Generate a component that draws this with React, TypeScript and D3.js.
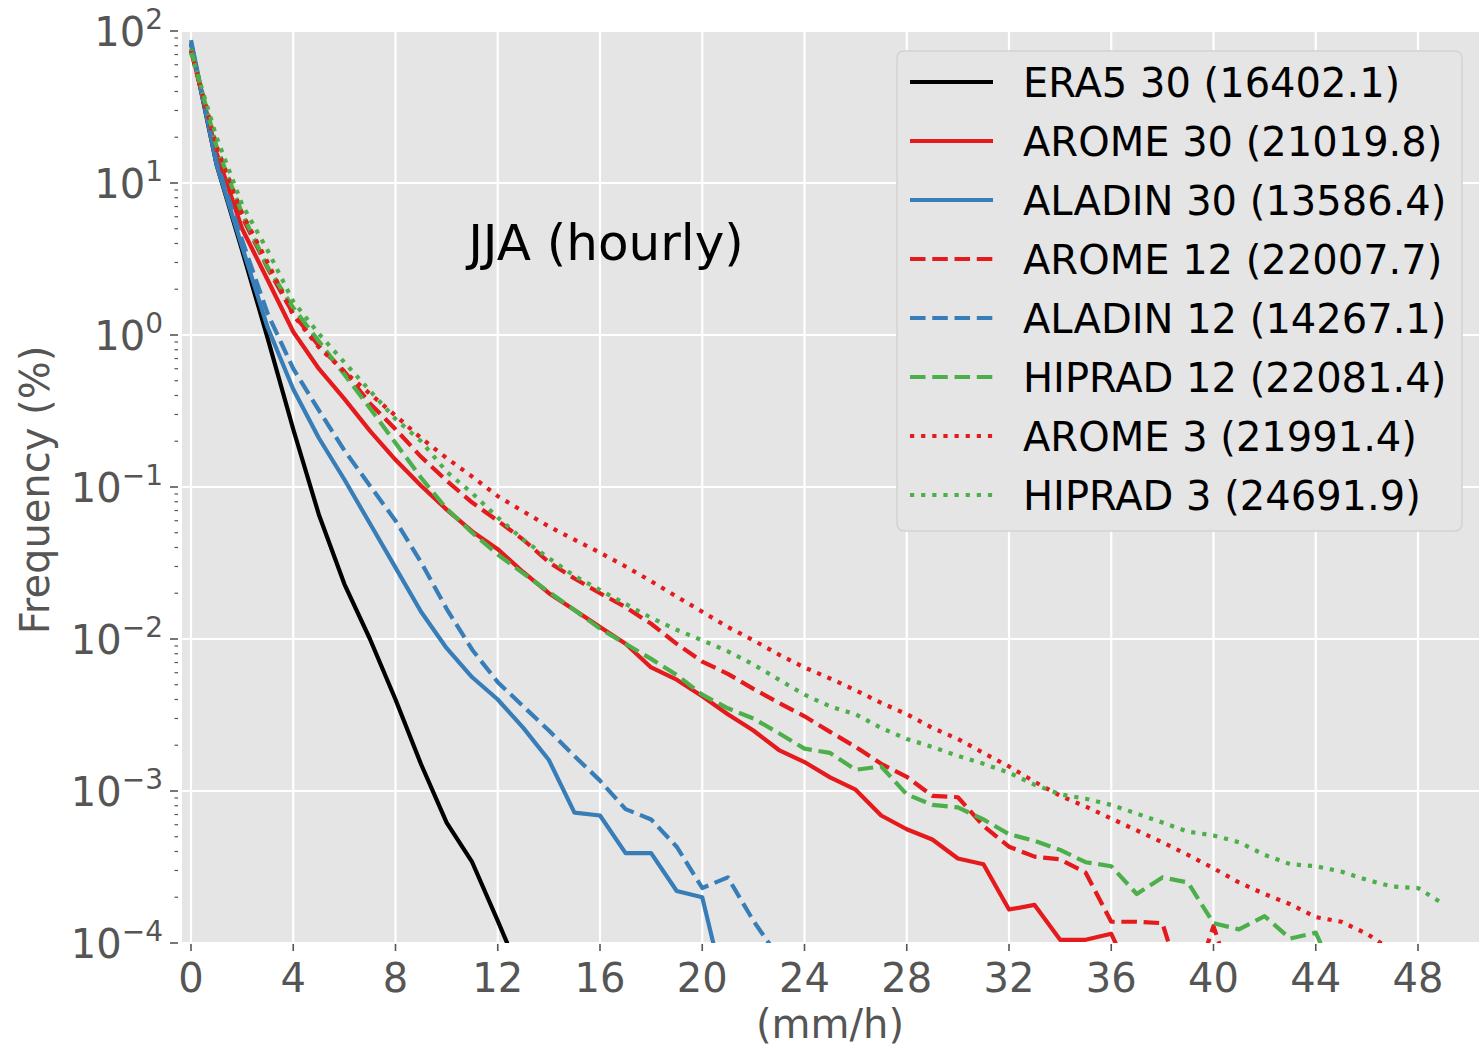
import React from 'react';
import * as d3 from 'd3';

// frequency (%) per 1 mm/h bin, index = bin (mm/h)
const era5_30 = [83, 13.2, 3.6, 0.95, 0.24, 0.066, 0.023, 0.010, 0.0040, 0.0015, 6.2e-4, 3.4e-4, 1.4e-4, 5.6e-5];
const arome_30 = [76, 15.8, 5.0, 2.3, 1.05, 0.60, 0.38, 0.234, 0.151, 0.102, 0.071, 0.051, 0.039, 0.0275, 0.020,
  0.0155, 0.012, 0.0093, 0.0065, 0.0054, 0.0042, 0.0032, 0.0025, 0.00186, 0.00155, 0.00123, 0.00102, 6.9e-4,
  5.6e-4, 4.8e-4, 3.6e-4, 3.3e-4, 1.66e-4, 1.78e-4, 1.05e-4, 1.05e-4, 1.15e-4, 5e-5];
const aladin_30 = [87, 13.2, 3.8, 1.12, 0.44, 0.21, 0.112, 0.0575, 0.0295, 0.0151, 0.0087, 0.0056, 0.0040, 0.0026,
  0.0016, 7.2e-4, 6.9e-4, 3.9e-4, 3.9e-4, 2.2e-4, 2.0e-4, 4e-5];
const arome_12 = [74, 16.6, 6.0, 2.75, 1.38, 0.85, 0.575, 0.355, 0.24, 0.158, 0.11, 0.079, 0.060, 0.045, 0.032,
  0.025, 0.020, 0.0162, 0.0126, 0.0093, 0.0071, 0.0059, 0.0047, 0.0038, 0.0031, 0.00245, 0.00195, 0.00151, 0.00124,
  9.3e-4, 9.1e-4, 5.9e-4, 4.3e-4, 3.7e-4, 3.55e-4, 2.9e-4, 1.38e-4, 1.38e-4, 1.35e-4, 4e-5, 1.29e-4, 4e-5];
const aladin_12 = [83, 13.8, 4.2, 1.38, 0.60, 0.32, 0.174, 0.102, 0.060, 0.032, 0.0158, 0.0085, 0.0052, 0.0036,
  0.0025, 0.0017, 0.00117, 7.6e-4, 6.5e-4, 4.3e-4, 2.3e-4, 2.7e-4, 1.4e-4, 8e-5];
const hiprad_12 = [76, 17.4, 6.3, 2.8, 1.51, 0.91, 0.55, 0.33, 0.195, 0.115, 0.072, 0.050, 0.036, 0.027, 0.0204,
  0.0155, 0.0117, 0.0093, 0.0074, 0.0058, 0.0043, 0.0035, 0.0030, 0.0024, 0.0019, 0.00178, 0.00138, 0.00145, 9.5e-4,
  8.1e-4, 7.8e-4, 6.5e-4, 5.2e-4, 4.7e-4, 4.1e-4, 3.4e-4, 3.2e-4, 2.1e-4, 2.7e-4, 2.5e-4, 1.35e-4, 1.23e-4, 1.5e-4,
  1.07e-4, 1.17e-4, 5e-5];
const arome_3 = [74, 17.4, 6.3, 3.0, 1.35, 0.83, 0.575, 0.41, 0.295, 0.21, 0.155, 0.117, 0.087, 0.069, 0.055,
  0.045, 0.037, 0.030, 0.024, 0.019, 0.0151, 0.012, 0.0098, 0.0079, 0.0065, 0.0055, 0.0046, 0.0038, 0.0032, 0.0026,
  0.0022, 0.00178, 0.00145, 0.00115, 9.3e-4, 7.9e-4, 6.6e-4, 5.5e-4, 4.6e-4, 3.8e-4, 3.1e-4, 2.5e-4, 2.1e-4, 1.8e-4,
  1.48e-4, 1.38e-4, 1.15e-4, 8.9e-5];
const hiprad_3 = [72, 20, 7.2, 3.6, 1.66, 1.02, 0.66, 0.43, 0.28, 0.20, 0.126, 0.091, 0.063, 0.045, 0.034, 0.026,
  0.021, 0.017, 0.0138, 0.0115, 0.0098, 0.0083, 0.0068, 0.0054, 0.0043, 0.0036, 0.0032, 0.0026, 0.0022, 0.00195,
  0.0017, 0.00151, 0.00132, 0.0011, 9.5e-4, 8.9e-4, 8.1e-4, 7.1e-4, 6.2e-4, 5.4e-4, 5.1e-4, 4.6e-4, 3.8e-4, 3.3e-4,
  3.2e-4, 2.95e-4, 2.6e-4, 2.35e-4, 2.3e-4, 1.8e-4];

const seriesNames = ['ERA5 30', 'AROME 30', 'ALADIN 30', 'AROME 12', 'ALADIN 12', 'HIPRAD 12', 'AROME 3', 'HIPRAD 3'];
const seriesTotals = [16402.1, 21019.8, 13586.4, 22007.7, 14267.1, 22081.4, 21991.4, 24691.9];
const seriesValues = [era5_30, arome_30, aladin_30, arome_12, aladin_12, hiprad_12, arome_3, hiprad_3];
const seriesColors = ['#000000', '#e41a1c', '#377eb8', '#e41a1c', '#377eb8', '#4daf4a', '#e41a1c', '#4daf4a'];
const seriesStyles = ['solid', 'solid', 'solid', 'dashed', 'dashed', 'dashed', 'dotted', 'dotted'];

const xTicks = [0, 4, 8, 12, 16, 20, 24, 28, 32, 36, 40, 44, 48];
const yExponents = [2, 1, 0, -1, -2, -3, -4];

const W = 1479;
const H = 1048;
const plotLeft = 182;
const plotTop = 31;
const plotBottom = 943;
const font = 'DejaVu Sans, Liberation Sans, sans-serif';
const tickColor = '#555555';
const lw = 4.2;

const dashFor = (s: string) =>
  s === 'dashed' ? `${3.7 * lw},${1.6 * lw}` : s === 'dotted' ? `${lw},${1.65 * lw}` : undefined;

const supNum = (e: number) => (e < 0 ? '\u2212' + Math.abs(e) : String(e));

export default function App() {
  const x = d3.scaleLinear().domain([0, 48]).range([191, 1418]);
  const y = d3.scaleLog().domain([1e-4, 1e2]).range([plotBottom, plotTop]);

  const line = d3
    .line<number>()
    .x((_, i) => x(i))
    .y((d) => y(d));

  const minorTicks: number[] = [];
  yExponents.slice(1).forEach((e) => {
    for (let k = 2; k <= 9; k++) minorTicks.push(k * Math.pow(10, e));
  });

  const legendX = 897;
  const legendY = 51;
  const rowH = 59;

  return (
    <div style={{ position: 'absolute', left: 0, top: 0 }}>
      <svg width={W} height={H} style={{ display: 'block', background: '#ffffff' }} fontFamily={font}>
        <defs>
          <clipPath id="plotClip">
            <rect x={plotLeft} y={plotTop} width={W - plotLeft} height={plotBottom - plotTop} />
          </clipPath>
        </defs>

        <rect x={plotLeft} y={plotTop} width={W - plotLeft} height={plotBottom - plotTop} fill="#e5e5e5" />

        {/* grid */}
        {xTicks.map((t) => (
          <line key={'gx' + t} x1={x(t)} x2={x(t)} y1={plotTop} y2={plotBottom} stroke="#ffffff" strokeWidth={2.2} />
        ))}
        {yExponents.map((e) => (
          <line key={'gy' + e} x1={plotLeft} x2={W} y1={y(Math.pow(10, e))} y2={y(Math.pow(10, e))}
            stroke="#ffffff" strokeWidth={2.2} />
        ))}

        {/* x ticks */}
        {xTicks.map((t) => (
          <g key={'xt' + t}>
            <line x1={x(t)} x2={x(t)} y1={plotBottom + 1} y2={plotBottom + 8} stroke={tickColor} strokeWidth={1.6} />
            <text x={x(t)} y={992} textAnchor="middle" fontSize={40} fill={tickColor}>{t}</text>
          </g>
        ))}

        {/* y ticks */}
        {yExponents.map((e) => (
          <g key={'yt' + e}>
            <line x1={170} x2={178} y1={y(Math.pow(10, e))} y2={y(Math.pow(10, e))} stroke={tickColor} strokeWidth={1.6} />
            <text x={163} y={y(Math.pow(10, e)) + 15} textAnchor="end" fontSize={40} fill={tickColor}>
              10<tspan dy={-17} fontSize={28}>{supNum(e)}</tspan>
            </text>
          </g>
        ))}
        {minorTicks.map((v, i) => (
          <line key={'ym' + i} x1={174.5} x2={178} y1={y(v)} y2={y(v)} stroke={tickColor} strokeWidth={1.2} />
        ))}

        {/* data */}
        <g clipPath="url(#plotClip)">
          {seriesValues.map((vals, i) => (
            <path key={seriesNames[i]} d={line(vals) || ''} fill="none" stroke={seriesColors[i]} strokeWidth={lw}
              strokeDasharray={dashFor(seriesStyles[i])} strokeLinejoin="round" />
          ))}
        </g>

        <text x={606} y={260} textAnchor="middle" fontSize={50} fill="#000000">JJA (hourly)</text>

        {/* legend */}
        <rect x={legendX} y={legendY} width={565} height={480} rx={7} fill="#e5e5e5" stroke="#d2d2d2" strokeWidth={1.5} />
        {seriesNames.map((name, i) => {
          const cy = 82 + i * rowH;
          return (
            <g key={'lg' + name}>
              <line x1={910} x2={993} y1={cy} y2={cy} stroke={seriesColors[i]} strokeWidth={lw}
                strokeDasharray={dashFor(seriesStyles[i])} />
              <text x={1023} y={cy + 14.5} fontSize={40} fill="#000000">
                {`${name} (${seriesTotals[i].toFixed(1)})`}
              </text>
            </g>
          );
        })}

        {/* axis labels */}
        <text x={830} y={1038} textAnchor="middle" fontSize={40} fill={tickColor}>(mm/h)</text>
        <text transform="translate(49,490) rotate(-90)" textAnchor="middle" fontSize={40} fill={tickColor}>Frequency (%)</text>
      </svg>
    </div>
  );
}
